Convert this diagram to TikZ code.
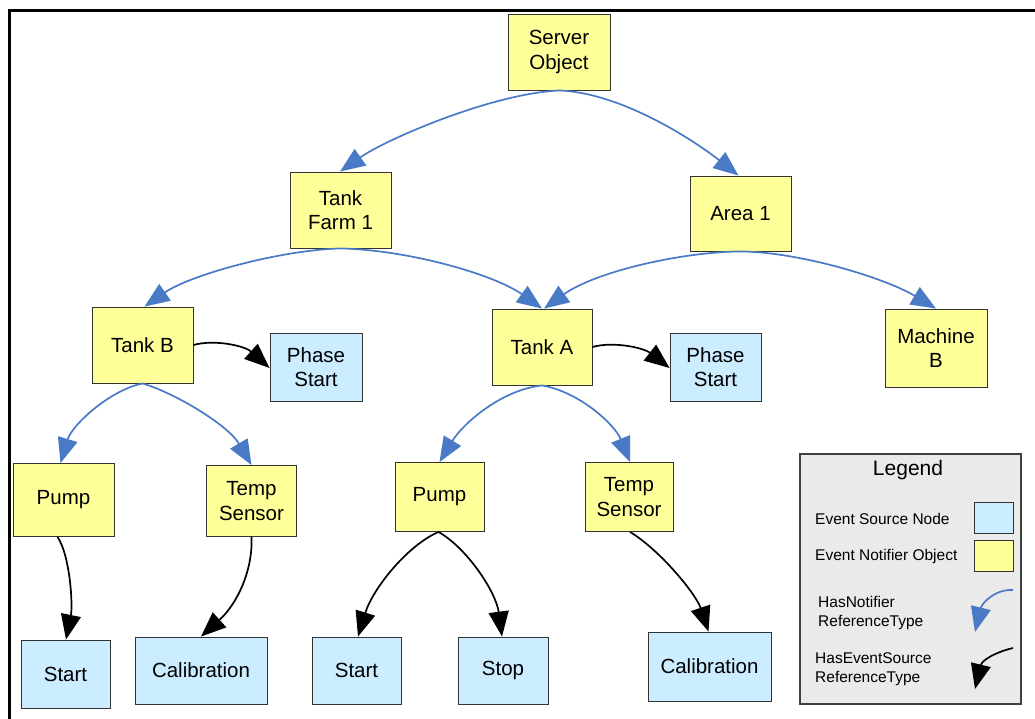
\documentclass[tikz,border=0pt]{standalone}
\usepackage{fontspec}
\setmainfont{Liberation Sans}
\usetikzlibrary{arrows.meta}
\definecolor{notefill}{RGB}{255,255,153}
\definecolor{srcfill}{RGB}{204,236,255}
\definecolor{hasnote}{RGB}{72,122,198}
\definecolor{legfill}{RGB}{234,234,234}
\begin{document}
\begin{tikzpicture}[x=1pt,y=-1pt,
  box/.style={draw=black!80, line width=0.9pt, inner sep=0pt, align=center,
    font=\fontsize{20.5}{24.5}\selectfont},
  notifier/.style={box, fill=notefill},
  source/.style={box, fill=srcfill},
  bluelink/.style={draw=hasnote, line width=1.7pt, -{Triangle[length=25pt,width=20pt]}},
  blacklink/.style={draw=black, line width=1.7pt, -{Triangle[length=25pt,width=20pt]}},
  legtext/.style={anchor=west, align=left, inner sep=0pt, font=\fontsize{15.5}{19.5}\selectfont}
]
\useasboundingbox (0,0) rectangle (1035,718);
% frame
\draw[line width=3pt] (9,719) -- (9,10) -- (1036,10);

% level 0
\node[notifier, minimum width=102, minimum height=76] (server) at (559,52) {Server\\Object};
% level 1
\node[notifier, minimum width=101, minimum height=76] (tf1) at (340.5,210) {Tank\\Farm 1};
\node[notifier, minimum width=101, minimum height=75] (area) at (740.5,213.5) {Area 1};
% level 2
\node[notifier, minimum width=101, minimum height=76] (tankB) at (142.5,345) {Tank B};
\node[source, minimum width=92, minimum height=68] (phaseB) at (316,367) {Phase\\Start};
\node[notifier, minimum width=100, minimum height=76] (tankA) at (542,347) {Tank A};
\node[source, minimum width=91, minimum height=68] (phaseA) at (715.5,367) {Phase\\Start};
\node[notifier, minimum width=102, minimum height=78] (machB) at (936,348) {Machine\\B};
% level 3
\node[notifier, minimum width=101, minimum height=73] (pumpL) at (63.5,500) {Pump};
\node[notifier, minimum width=90, minimum height=71] (tempL) at (251.5,501) {Temp\\Sensor};
\node[notifier, minimum width=89, minimum height=69] (pumpA) at (439.5,497) {Pump};
\node[notifier, minimum width=88, minimum height=69] (tempA) at (629,497) {Temp\\Sensor};
% level 4
\node[source, minimum width=89, minimum height=68] (startL) at (65.5,674) {Start};
\node[source, minimum width=132, minimum height=67] (calL) at (201,670.5) {Calibration};
\node[source, minimum width=89, minimum height=67] (startA) at (356.5,670.5) {Start};
\node[source, minimum width=90, minimum height=67] (stopA) at (503,670.5) {Stop};
\node[source, minimum width=123, minimum height=69] (calA) at (709.5,666.5) {Calibration};

% HasNotifier links
\draw[bluelink] (server.south) .. controls (490,94) and (385,140) .. ([xshift=-0.5pt]tf1.north);
\draw[bluelink] (server.south) .. controls (625,93) and (700,145) .. ([xshift=-2pt]area.north);
\draw[bluelink] (tf1.south) .. controls (280,250) and (190,275) .. ([xshift=2pt]tankB.north);
\draw[bluelink] (tf1.south) .. controls (410,250) and (495,275) .. (tankA.north);
\draw[bluelink] (area.south) .. controls (680,252) and (595,272) .. ([xshift=2pt]tankA.north);
\draw[bluelink] (area.south) .. controls (800,252) and (885,278) .. (machB.north);
\draw[bluelink] (tankB.south) .. controls (110,390) and (72,425) .. ([xshift=-3pt]pumpL.north);
\draw[bluelink] (tankB.south) .. controls (175,393) and (228,425) .. (tempL.north);
\draw[bluelink] (tankA.south) .. controls (500,390) and (462,425) .. (pumpA.north);
\draw[bluelink] (tankA.south) .. controls (580,392) and (615,425) .. ([xshift=1pt]tempA.north);

% HasEventSource links
\draw[blacklink] (tankB.east) .. controls (215,339) and (245,346) .. ([yshift=-1pt]phaseB.west);
\draw[blacklink] (tankA.east) .. controls (614,341) and (644,348) .. ([yshift=-1pt]phaseA.west);
\draw[blacklink] ([xshift=-6pt]pumpL.south) .. controls (70,555) and (73,605) .. ([xshift=0.5pt]startL.north);
\draw[blacklink] (tempL.south) .. controls (253,572) and (236,605) .. (calL.north);
\draw[blacklink] ([xshift=-1pt]pumpA.south) .. controls (408,545) and (373,588) .. ([xshift=1.5pt]startA.north);
\draw[blacklink] ([xshift=-1pt]pumpA.south) .. controls (467,548) and (496,592) .. ([xshift=-1pt]stopA.north);
\draw[blacklink] ([xshift=1pt]tempA.south) .. controls (660,550) and (696,594) .. ([xshift=-1pt]calA.north);

% Legend
\node[draw=black!75, line width=1.2pt, fill=legfill, minimum width=221, minimum height=250, inner sep=0pt] (legend) at (910.5,579) {};
\node[inner sep=0pt, font=\fontsize{21}{24}\selectfont] (legtitle) at (908,470) {Legend};
\node[legtext] (lsrc) at (815,519) {Event Source Node};
\node[legtext] (lnote) at (815,556) {Event Notifier Object};
\node[source, minimum width=39, minimum height=31] (swsrc) at (993.5,517.5) {};
\node[notifier, minimum width=39, minimum height=31] (swnote) at (993.5,555.5) {};
\node[legtext] (lhn) at (818,613) {HasNotifier\\ReferenceType};
\node[legtext] (lhes) at (815,669) {HasEventSource\\ReferenceType};
\coordinate (hnA) at (1013,590);
\coordinate (hnB) at (975,632);
\coordinate (hesA) at (1013,648);
\coordinate (hesB) at (975,689);
\draw[bluelink] (hnA) .. controls (995,589) and (982,603) .. (hnB);
\draw[blacklink] (hesA) .. controls (996,652) and (982,660) .. (hesB);
\end{tikzpicture}
\end{document}
